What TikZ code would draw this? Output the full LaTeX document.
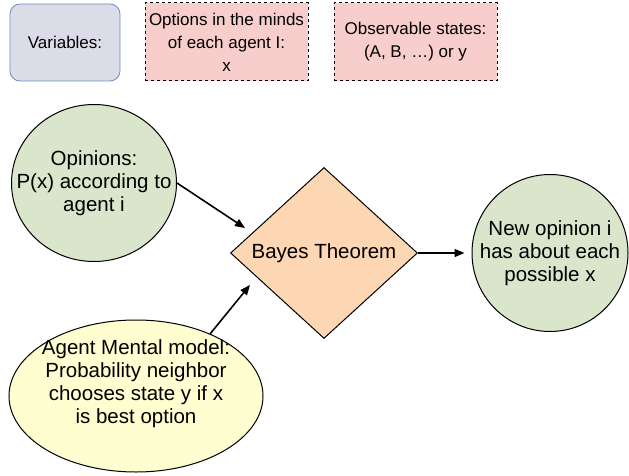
\documentclass[tikz,border=0pt]{standalone}
\usepackage{fontspec}
\setmainfont{Liberation Sans}
\usetikzlibrary{arrows.meta, positioning, shapes.geometric}

\definecolor{varfill}{HTML}{DCDCE8}
\definecolor{varline}{HTML}{6C8EBF}
\definecolor{pinkfill}{HTML}{F8CECC}
\definecolor{greenfill}{HTML}{D9E6CC}
\definecolor{peachfill}{HTML}{FDD6B4}
\definecolor{yellowfill}{HTML}{FEFED0}

\begin{document}
\begin{tikzpicture}[x=1pt, y=-1pt,
		small/.style={font=\fontsize{17}{23}\selectfont, align=center},
		big/.style={font=\fontsize{20.5}{23}\selectfont, align=center},
		varbox/.style={draw=varline, fill=varfill, rounded corners=10pt, line width=0.8pt, minimum width=110pt, minimum height=77pt, small},
		dashbox/.style={draw, dashed, fill=pinkfill, line width=1pt, minimum width=163pt, minimum height=78pt, inner sep=0pt, small},
		blob/.style={draw, ellipse, line width=1pt, inner sep=-40pt, big},
		arr/.style={-{Triangle[length=10pt, width=8pt]}, line width=1.6pt}]
		\useasboundingbox (0,0) rectangle (629,476);
		% legend
		\node[varbox] (var) at (65,42.5) {Variables:};
		\node[dashbox] (opt) at (226.5,42) {Options in the minds\\of each agent I:\\x};
		\node[dashbox] (obs) at (415.5,42) {Observable states:\\(A, B, …) or y};
		
		% flow
		\node[blob, fill=greenfill, minimum width=165pt, minimum height=157pt] (op) at (94,183) {Opinions:\\P(x) according to\\agent i};
		\node[draw, diamond, fill=peachfill, line width=1pt, inner sep=-40pt, minimum width=187pt, minimum height=171pt, big] (bayes) at (324,253) {Bayes Theorem};
		\node[blob, fill=greenfill, minimum width=156pt, minimum height=157pt] (new) at (550,253) {New opinion i\\has about each\\possible x};
		\node[blob, fill=yellowfill, minimum width=254pt, minimum height=152pt] (mm) at (136,396) {};
		\node[big] (mmtext) at (136,384) {Agent Mental model:\\Probability neighbor\\chooses state y if x\\is best option};
		
		\coordinate (ina) at (245,228);
		\coordinate (inb) at (250,285);
		\draw[arr] (op.east) -- (ina);
		\draw[arr] (mm.40) -- (inb);
		\draw[arr, shorten >=7pt] (bayes.east) -- (new.west);
	\end{tikzpicture}
\end{document}
